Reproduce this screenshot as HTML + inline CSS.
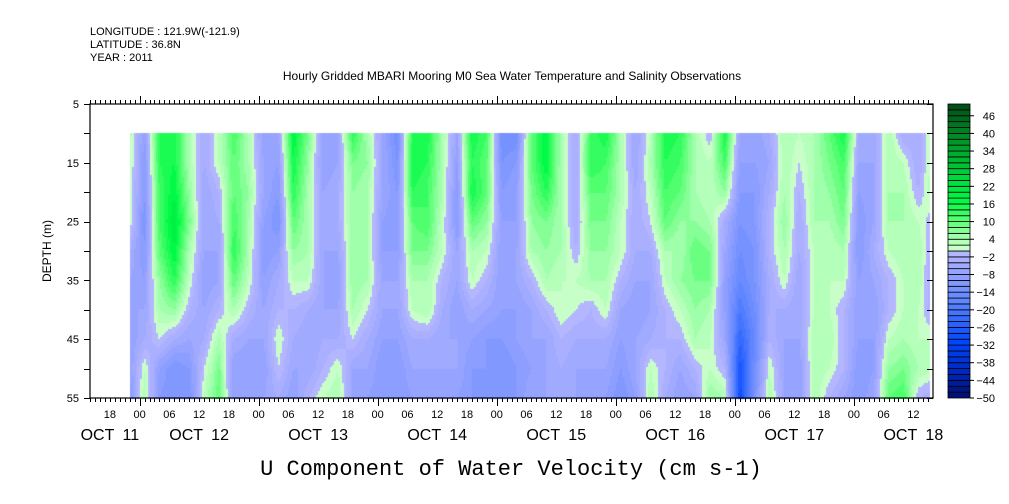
<!DOCTYPE html>
<html><head><meta charset="utf-8">
<style>
body{margin:0;background:#fff;}
#wrap{position:relative;width:1009px;height:504px;overflow:hidden;font-family:"Liberation Sans",sans-serif;}
svg{position:absolute;left:0;top:0;}
canvas{position:absolute;left:0;top:0;}
</style></head>
<body>
<div id="wrap">
<canvas id="hm" width="1009" height="504"></canvas>
<svg id="ax" width="1009" height="504"></svg>
</div>
<script>
// ---- data ----
const depths = [10,15,20,25,30,35,40,45,50,55];
const startHour = 8;      // hours after Oct 11 14:00 of first column
const stepHours = 3;
const cols = [
[3,3,2,2,-4,-6,-6,-8,-8,-10],
[-8,-10,-10,-12,-10,-8,-6,-4,2,4],
[14,14,12,12,10,6,4,0,-8,-10],
[16,16,18,20,18,14,6,-4,-12,-12],
[4,4,6,8,4,2,-2,-6,-10,-12],
[-4,-4,-6,-6,-6,-8,-6,-4,0,2],
[2,2,-2,-4,-6,-6,-2,4,8,10],
[12,10,10,12,14,10,4,-4,-8,-8],
[4,4,6,4,4,2,-2,-6,-8,-8],
[-8,-6,-6,-8,-10,-8,-6,-6,-8,-6],
[-6,-8,-10,-12,-8,-4,-2,2,0,-4],
[18,16,14,10,6,2,-2,-4,-6,-8],
[8,6,4,4,4,2,-4,-6,-6,-2],
[-8,-8,-6,-6,-6,-6,-6,-4,-2,2],
[-6,-6,-4,-4,-6,-8,-6,-4,2,4],
[14,8,6,6,6,6,4,0,-6,-6],
[4,6,4,4,4,4,0,-4,-6,-8],
[-6,-6,-6,-8,-8,-6,-6,-8,-10,-10],
[-14,-12,-10,-10,-8,-6,-6,-8,-10,-10],
[14,16,14,10,8,4,2,-4,-6,-8],
[16,14,12,12,8,4,4,-4,-6,-6],
[4,4,4,2,2,-2,-4,-6,-6,-8],
[-6,-8,-10,-10,-6,-6,-8,-6,-6,-8],
[16,14,16,10,4,2,-4,-8,-10,-10],
[12,10,10,6,2,-2,-6,-10,-10,-12],
[-14,-12,-10,-8,-8,-8,-8,-10,-12,-12],
[-14,-10,-8,-8,-6,-6,-8,-8,-10,-10],
[10,10,8,6,4,-2,-6,-6,-8,-6],
[18,18,14,8,6,4,-2,-6,-6,-6],
[4,4,4,4,4,2,2,-2,-4,-4],
[-4,-4,-4,-4,-2,2,0,-4,-6,-6],
[12,14,10,8,6,4,-2,-4,-6,-8],
[16,12,10,8,6,4,2,-4,-6,-8],
[4,4,4,2,2,-2,-6,-8,-10,-12],
[-6,-6,-4,-4,-4,-6,-8,-6,-6,-8],
[2,4,2,0,-4,-6,-6,-4,2,4],
[16,14,12,10,4,2,-2,-2,-2,-4],
[14,12,10,6,4,6,2,-2,-6,-8],
[4,4,4,6,10,8,6,4,-2,-6],
[-2,2,2,4,8,8,4,2,2,6],
[16,12,6,-4,-6,-8,-8,-6,-2,4],
[-6,-8,-10,-12,-14,-16,-20,-24,-28,-30],
[-8,-8,-10,-10,-12,-12,-14,-16,-14,-12],
[-4,-6,-4,-2,-2,-4,-4,-2,2,4],
[4,4,4,6,4,2,-4,-6,-6,-6],
[2,0,-2,-4,-4,-6,-6,-6,-8,-8],
[4,4,4,4,2,2,2,4,4,4],
[10,8,6,4,2,2,2,4,2,-2],
[16,12,10,8,4,2,-2,-2,-2,-6],
[-4,-6,-8,-10,-10,-8,-8,-8,-10,-10],
[-6,-6,-6,-6,-4,-6,-8,-8,-8,-6],
[4,4,4,4,2,-2,-2,2,6,10],
[-4,2,4,4,4,2,2,4,8,12],
[-4,-4,-2,2,4,4,2,2,4,-2],
[4,4,4,-2,-4,-6,-4,2,2,-4]
];
const levelMin = -50, levelMax = 50, levelStep = 2;
const cbarLabels = [46,40,34,28,22,16,10,4,-2,-8,-14,-20,-26,-32,-38,-44,-50];
const depthTicks = [5,15,25,35,45,55];
const hourLabels = ["18","00","06","12","18","00","06","12","18","00","06","12","18","00","06","12","18","00","06","12","18","00","06","12","18","00","06","12"];
const dateLabels = ["OCT 11","OCT 12","OCT 13","OCT 14","OCT 15","OCT 16","OCT 17","OCT 18"];

// ---- geometry ----
const X0=90, X1=933, Y0=104, Y1=398;
const pxPerHour = 4.96;
const xOfHour = h => X0 + h*pxPerHour;
const yOfDepth = d => Y0 + (d-5)*(Y1-Y0)/50;
const dataXMax = 930;

function lerp(a,b,t){return a+(b-a)*t;}
function mix(c1,c2,t){return [0,1,2].map(i=>Math.round(lerp(c1[i],c2[i],t)));}
const negStops=[[0,[180,182,255]],[8,[140,158,255]],[16,[96,134,255]],[30,[0,70,255]],[40,[0,40,190]],[50,[0,10,100]]];
const posStops=[[0,[200,255,200]],[4,[160,255,170]],[10,[80,255,110]],[16,[0,250,70]],[24,[0,215,60]],[36,[0,150,40]],[50,[0,70,20]]];
function stopColor(stops,v){
  for(let i=1;i<stops.length;i++){ if(v<=stops[i][0]){const t=(v-stops[i-1][0])/(stops[i][0]-stops[i-1][0]);return mix(stops[i-1][1],stops[i][1],t);} }
  return stops[stops.length-1][1];
}
function bandColor(v){
  let k=Math.floor((v-levelMin)/levelStep); k=Math.max(0,Math.min(49,k));
  const lo=levelMin+k*levelStep;
  const c = lo<0 ? stopColor(negStops,-lo-levelStep) : stopColor(posStops,lo);
  return 'rgb('+c.join(',')+')';
}

// ---- heatmap ----
const ctx=document.getElementById('hm').getContext('2d');
const colX = cols.map((c,j)=>xOfHour(startHour+j*stepHours));
function valueAt(x,d){
  let j=(x-colX[0])/(colX[1]-colX[0]); j=Math.max(0,Math.min(cols.length-1.0001,j));
  const j0=Math.floor(j), tj=j-j0;
  let i=(d-depths[0])/(depths[1]-depths[0]); i=Math.max(0,Math.min(depths.length-1.0001,i));
  const i0=Math.floor(i), ti=i-i0;
  const a=lerp(cols[j0][i0],cols[j0+1][i0],tj), b=lerp(cols[j0][i0+1],cols[j0+1][i0+1],tj);
  return lerp(a,b,ti);
}
const ys=yOfDepth(depths[0]), ye=yOfDepth(depths[depths.length-1]);
for(let x=Math.round(colX[0]);x<dataXMax;x+=2){
  for(let y=Math.round(ys);y<ye;y+=2){
    const d=5+(y+1-Y0)*50/(Y1-Y0);
    ctx.fillStyle=bandColor(valueAt(x+1,d));
    ctx.fillRect(x,y,2,2);
  }
}

// ---- axes ----
const svg=document.getElementById('ax');
const NS='http://www.w3.org/2000/svg';
function el(tag,attrs,parent){const e=document.createElementNS(NS,tag);for(const k in attrs)e.setAttribute(k,attrs[k]);(parent||svg).appendChild(e);return e;}
function txt(x,y,s,opt){const t=el('text',Object.assign({x:x,y:y,'font-family':'Liberation Sans, sans-serif','font-size':11,fill:'#000'},opt||{}));t.textContent=s;return t;}

const frame=el('rect',{x:X0,y:Y0,width:X1-X0,height:Y1-Y0,fill:'none',stroke:'#000','stroke-width':1.2});



const totalHours=Math.floor((X1-X0)/pxPerHour);
const tickG=el('g',{stroke:'#000','stroke-width':1});


for(let h=0;h<=totalHours;h++){
  const x=Math.round(xOfHour(h))+0.5;
  const clock=(14+h)%24;
  const len = clock===0?8:4;
  el('line',{x1:x,y1:Y0,x2:x,y2:Y0-len},tickG);
  el('line',{x1:x,y1:Y1,x2:x,y2:Y1+len},tickG);
}
hourLabels.forEach((s,i)=>{
  const h=4+i*6;
  const t=txt(xOfHour(h),418,s,{'text-anchor':'middle'});
  
  
});
dateLabels.forEach((s,i)=>{
  const h = i===0 ? 4 : 10+(i-1)*24+12;
  const t=txt(xOfHour(h),440,s,{'text-anchor':'middle','font-size':16,'word-spacing':'4px'});
  
  
});
for(let d=5;d<=55;d+=5){
  const y=Math.round(yOfDepth(d))+0.5;
  el('line',{x1:X0,y1:y,x2:X0-6,y2:y,stroke:'#000'});
  el('line',{x1:X1,y1:y,x2:X1-6,y2:y,stroke:'#000'});
}
depthTicks.forEach(d=>{
  const t=txt(79,yOfDepth(d)+4,String(d),{'text-anchor':'end'});
  
  
});
const yt=txt(0,0,'DEPTH (m)',{'text-anchor':'middle',transform:'translate(51,251) rotate(-90)','font-size':12});



// colorbar
const CB_X=948, CB_W=22;
const nb=(levelMax-levelMin)/levelStep;
const bh=(Y1-Y0)/nb;
for(let k=0;k<nb;k++){
  const v=levelMin+k*levelStep+1;
  const r=el('rect',{x:CB_X,y:Y1-(k+1)*bh,width:CB_W,height:bh,fill:bandColor(v),stroke:'#000','stroke-width':0.8});
  
  
}
cbarLabels.forEach(v=>{
  const y=Y1-(v-levelMin)/levelStep*bh;
  el('line',{x1:CB_X+CB_W,y1:y,x2:CB_X+CB_W+4,y2:y,stroke:'#000'});
  const t=txt(995,y+4,v<0?'\u2212'+(-v):String(v),{'text-anchor':'end'});
  
  
});

// header
[['LONGITUDE : 121.9W(-121.9)',35],['LATITUDE : 36.8N',48],['YEAR : 2011',61]].forEach(a=>{
  const t=txt(90,a[1],a[0]);
  
  
});
const tt=txt(512,80,'Hourly Gridded MBARI Mooring M0 Sea Water Temperature and Salinity Observations',{'text-anchor':'middle','font-size':12});


const xt=txt(511,475,'U Component of Water Velocity (cm s-1)',{'text-anchor':'middle','font-family':'Liberation Mono, monospace','font-size':22});


</script>
</body></html>
